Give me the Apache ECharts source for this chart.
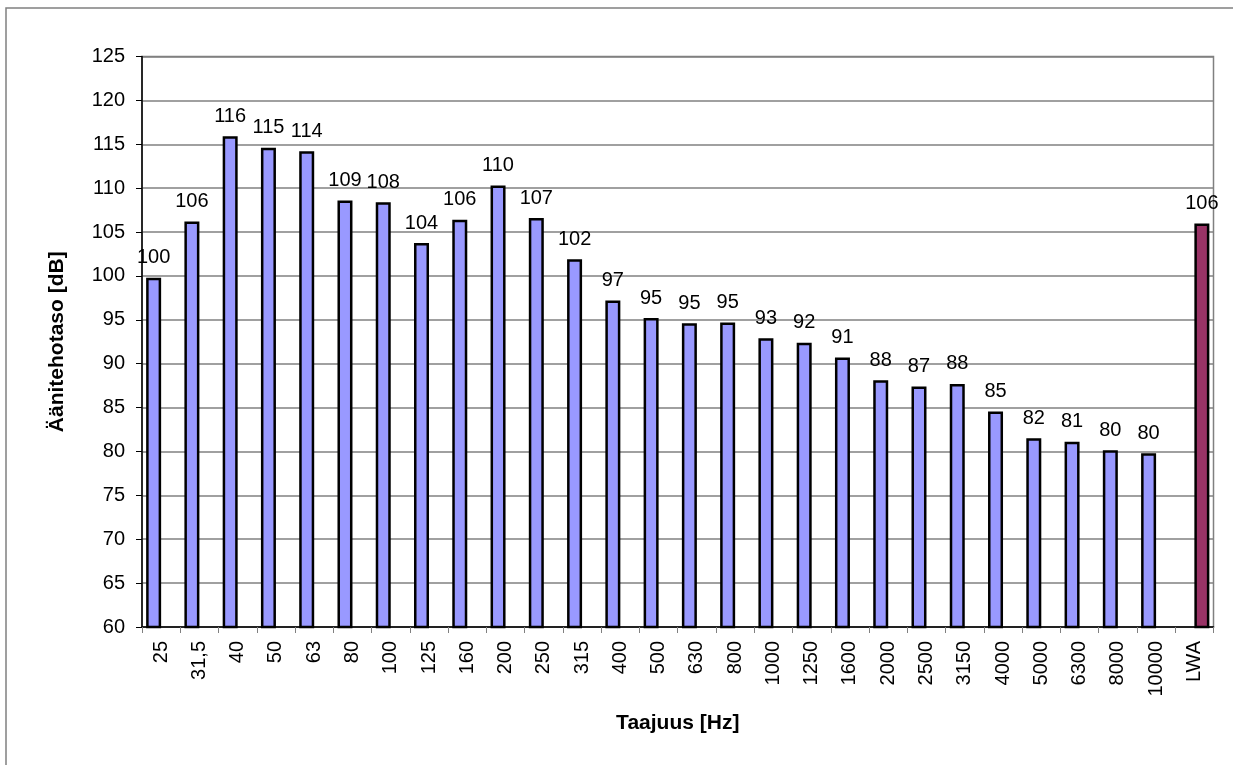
<!DOCTYPE html>
<html>
<head>
<meta charset="utf-8">
<script src="https://cdn.jsdelivr.net/npm/echarts@6/dist/echarts.min.js"></script>
<style>
html,body{margin:0;padding:0;background:#fff;}
#chart{width:1233px;height:765px;}
</style>
</head>
<body>
<div id="chart"></div>
<script>
var categories = ['25','31,5','40','50','63','80','100','125','160','200','250','315','400','500','630','800','1000','1250','1600','2000','2500','3150','4000','5000','6300','8000','10000','LWA'];
var bandValues = [99.8,106.2,115.9,114.6,114.2,108.6,108.4,103.75,106.4,110.3,106.6,101.9,97.2,95.2,94.6,94.7,92.9,92.4,90.7,88.1,87.4,87.7,84.55,81.5,81.1,80.15,79.8,'-'];
var lwaValues = ['-','-','-','-','-','-','-','-','-','-','-','-','-','-','-','-','-','-','-','-','-','-','-','-','-','-','-',105.96];
var yTicks = {min:60, max:125, interval:5};
var xName = 'Taajuus [Hz]';
var yName = 'Äänitehotaso [dB]';

var chart = echarts.init(document.getElementById('chart'), null, {renderer:'canvas'});
var font = '"Liberation Sans", Arial, sans-serif';
var labelCfg = {
  show:true, position:'top', distance:10, color:'#000', fontSize:20, fontFamily:font,
  formatter:function(p){return Math.round(p.value);}
};
chart.setOption({
  animation:false,
  backgroundColor:'#fff',
  graphic:[{type:'rect', shape:{x:6,y:8,width:1400,height:900}, style:{fill:'none', stroke:'#808080', lineWidth:1.5}, z:-1}],
  grid:{left:142, right:19.5, top:56.5, bottom:138, show:true, borderColor:'#808080', borderWidth:1.5, backgroundColor:'#fff'},
  xAxis:{
    type:'category', data:categories,
    name:xName, nameLocation:'middle', nameGap:86,
    nameTextStyle:{fontSize:21, fontWeight:'bold', fontFamily:font, color:'#000'},
    axisLine:{lineStyle:{color:'#000', width:1.5}},
    axisTick:{show:true, length:6, lineStyle:{color:'#808080'}},
    axisLabel:{rotate:90, fontSize:20, fontFamily:font, color:'#000', margin:14, interval:0},
    splitLine:{show:false}
  },
  yAxis:{
    type:'value', min:yTicks.min, max:yTicks.max, interval:yTicks.interval,
    name:yName, nameLocation:'middle', nameGap:74,
    nameTextStyle:{fontSize:21, fontWeight:'bold', fontFamily:font, color:'#000'},
    axisLine:{show:true, lineStyle:{color:'#000', width:1.5}},
    axisTick:{show:true, length:6, lineStyle:{color:'#000'}},
    axisLabel:{fontSize:20, fontFamily:font, color:'#000', margin:17},
    splitLine:{show:true, lineStyle:{color:'#808080', width:1.5}}
  },
  series:[
    {type:'bar', data:bandValues, barWidth:15, barGap:'0%',
     itemStyle:{color:'#9999FF', borderColor:'#000', borderWidth:2.5},
     label:labelCfg},
    {type:'bar', data:lwaValues, barWidth:15, barGap:'0%',
     itemStyle:{color:'#993366', borderColor:'#000', borderWidth:2.5},
     label:labelCfg}
  ]
});
</script>
</body>
</html>
